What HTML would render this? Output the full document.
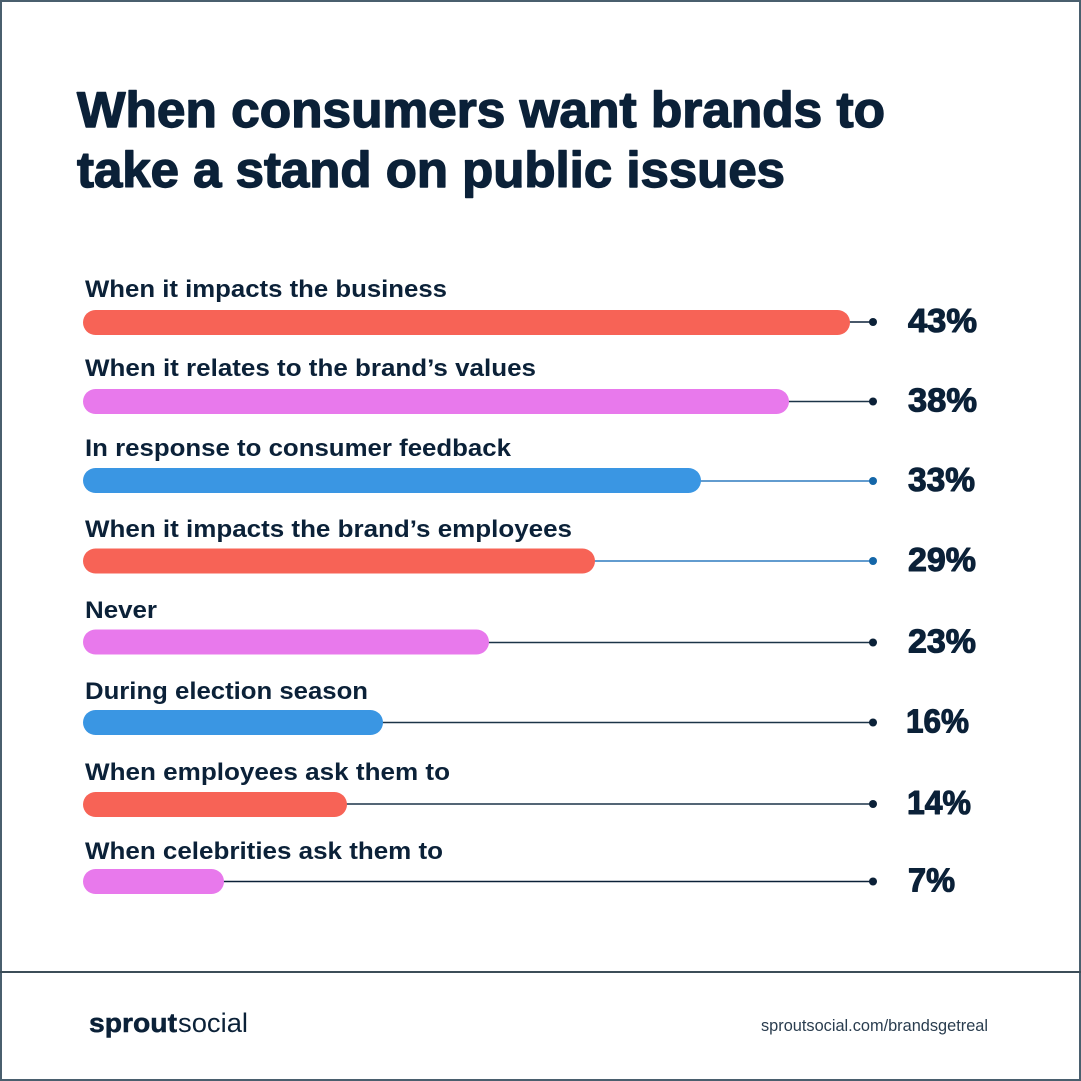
<!DOCTYPE html>
<html>
<head>
<meta charset="utf-8">
<style>
html,body{margin:0;padding:0;background:#fff;}
svg{display:block;}
text{font-family:"Liberation Sans",sans-serif;}
</style>
</head>
<body>
<svg width="1081" height="1081" viewBox="0 0 1081 1081" xmlns="http://www.w3.org/2000/svg">
<rect x="0" y="0" width="1081" height="1081" fill="#ffffff"/>
<rect x="1" y="1" width="1079" height="1079" fill="none" stroke="#4a5f6e" stroke-width="2"/>

<!-- Title -->
<g stroke="#0b2138" stroke-width="1.4" stroke-linejoin="round">
<text x="77" y="127" font-size="50" font-weight="bold" fill="#0b2138" textLength="808" lengthAdjust="spacingAndGlyphs">When consumers want brands to</text>
<text x="77" y="187" font-size="50" font-weight="bold" fill="#0b2138" textLength="708" lengthAdjust="spacingAndGlyphs">take a stand on public issues</text>
</g>

<g font-weight="bold" fill="#0b2138">
<!-- Row 1 -->
<text x="85" y="297" font-size="24" textLength="362" lengthAdjust="spacingAndGlyphs">When it impacts the business</text>
<line x1="840" y1="322" x2="873" y2="322" stroke="#0b2138" stroke-width="1.5"/>
<circle cx="873" cy="322" r="4" fill="#0b2138"/>
<rect x="83" y="310" width="767" height="25" rx="12.5" fill="#f76356"/>

<!-- Row 2 -->
<text x="85" y="376" font-size="24" textLength="451" lengthAdjust="spacingAndGlyphs">When it relates to the brand’s values</text>
<line x1="780" y1="401.5" x2="873" y2="401.5" stroke="#1c3448" stroke-width="1.5"/>
<circle cx="873" cy="401.5" r="4" fill="#0b2138"/>
<rect x="83" y="389" width="706" height="25" rx="12.5" fill="#e879ec"/>

<!-- Row 3 -->
<text x="85" y="456" font-size="24" textLength="426" lengthAdjust="spacingAndGlyphs">In response to consumer feedback</text>
<line x1="690" y1="481" x2="873" y2="481" stroke="#2e7bbf" stroke-width="1.5"/>
<circle cx="873" cy="481" r="4" fill="#1466a8"/>
<rect x="83" y="468" width="618" height="25" rx="12.5" fill="#3a96e3"/>

<!-- Row 4 -->
<text x="85" y="537" font-size="24" textLength="487" lengthAdjust="spacingAndGlyphs">When it impacts the brand’s employees</text>
<line x1="585" y1="561" x2="873" y2="561" stroke="#2e7bbf" stroke-width="1.5"/>
<circle cx="873" cy="561" r="4" fill="#1466a8"/>
<rect x="83" y="548.5" width="512" height="25" rx="12.5" fill="#f76356"/>

<!-- Row 5 -->
<text x="85" y="618" font-size="24" textLength="72" lengthAdjust="spacingAndGlyphs">Never</text>
<line x1="480" y1="642.5" x2="873" y2="642.5" stroke="#1c3448" stroke-width="1.5"/>
<circle cx="873" cy="642.5" r="4" fill="#0b2138"/>
<rect x="83" y="629.5" width="406" height="25" rx="12.5" fill="#e879ec"/>

<!-- Row 6 -->
<text x="85" y="699" font-size="24" textLength="283" lengthAdjust="spacingAndGlyphs">During election season</text>
<line x1="370" y1="722.5" x2="873" y2="722.5" stroke="#1c3448" stroke-width="1.5"/>
<circle cx="873" cy="722.5" r="4" fill="#0b2138"/>
<rect x="83" y="710" width="300" height="25" rx="12.5" fill="#3a96e3"/>

<!-- Row 7 -->
<text x="85" y="780" font-size="24" textLength="365" lengthAdjust="spacingAndGlyphs">When employees ask them to</text>
<line x1="335" y1="804" x2="873" y2="804" stroke="#1c3448" stroke-width="1.5"/>
<circle cx="873" cy="804" r="4" fill="#0b2138"/>
<rect x="83" y="792" width="264" height="25" rx="12.5" fill="#f76356"/>

<!-- Row 8 -->
<text x="85" y="859" font-size="24" textLength="358" lengthAdjust="spacingAndGlyphs">When celebrities ask them to</text>
<line x1="210" y1="881.5" x2="873" y2="881.5" stroke="#0b2138" stroke-width="1.5"/>
<circle cx="873" cy="881.5" r="4" fill="#0b2138"/>
<rect x="83" y="869" width="141" height="25" rx="12.5" fill="#e879ec"/>
</g>

<!-- Percent values -->
<g font-weight="bold" fill="#0b2138" stroke="#0b2138" stroke-width="1.1" stroke-linejoin="round" font-size="33">
<text x="908" y="332" textLength="69" lengthAdjust="spacingAndGlyphs">43%</text>
<text x="908" y="411.5" textLength="69" lengthAdjust="spacingAndGlyphs">38%</text>
<text x="908" y="491" textLength="67" lengthAdjust="spacingAndGlyphs">33%</text>
<text x="908" y="571" textLength="68" lengthAdjust="spacingAndGlyphs">29%</text>
<text x="908" y="652.5" textLength="68" lengthAdjust="spacingAndGlyphs">23%</text>
<text x="906" y="732.5" textLength="63" lengthAdjust="spacingAndGlyphs">16%</text>
<text x="907" y="814" textLength="64" lengthAdjust="spacingAndGlyphs">14%</text>
<text x="908" y="891.5" textLength="47" lengthAdjust="spacingAndGlyphs">7%</text>
</g>

<!-- Footer -->
<line x1="0" y1="972" x2="1081" y2="972" stroke="#3c4d58" stroke-width="2"/>
<text x="89" y="1032" font-size="27" font-weight="bold" fill="#0b2138" stroke="#0b2138" stroke-width="0.5" textLength="88" lengthAdjust="spacingAndGlyphs">sprout</text>
<text x="178" y="1032" font-size="27" fill="#0b2138" textLength="70" lengthAdjust="spacingAndGlyphs">social</text>
<text x="761" y="1031" font-size="17" fill="#2a3d4f" textLength="227" lengthAdjust="spacingAndGlyphs">sproutsocial.com/brandsgetreal</text>
</svg>
</body>
</html>
